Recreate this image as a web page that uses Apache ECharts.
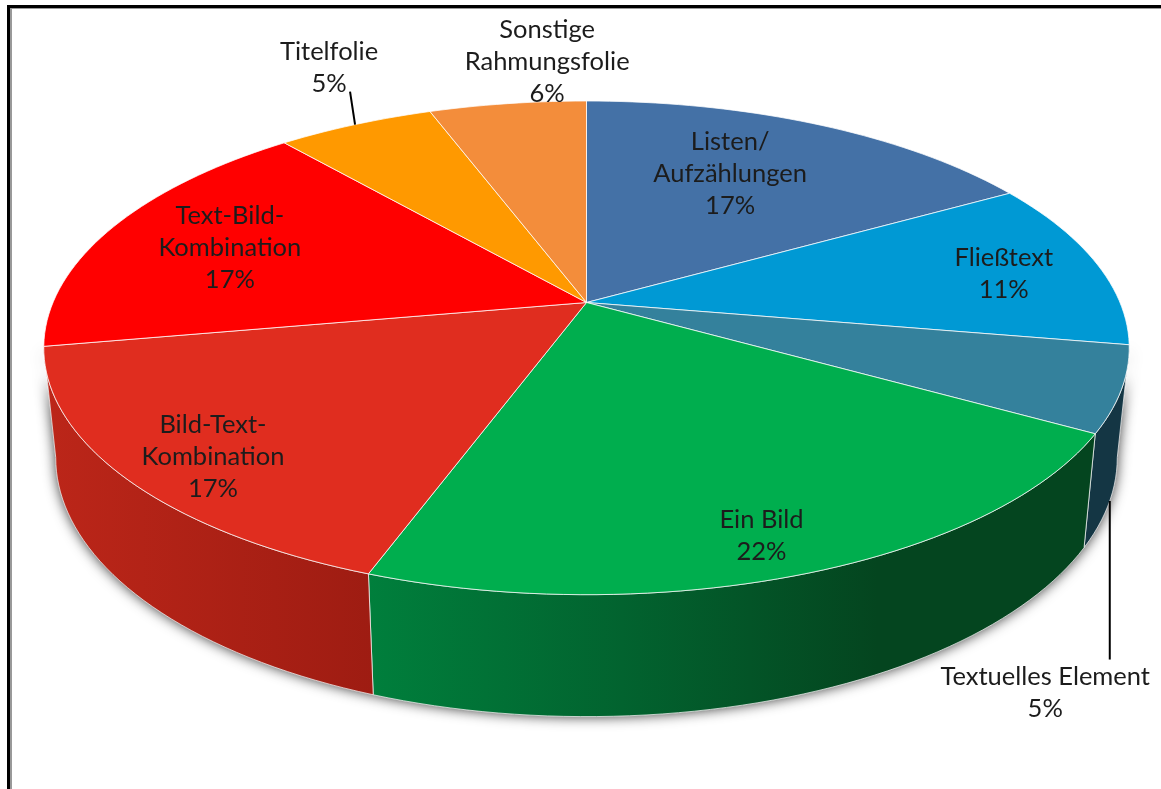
<!DOCTYPE html>
<html>
<head>
<meta charset="utf-8">
<style>
  html, body { margin: 0; padding: 0; background: #fff; }
  #chart { width: 1161px; height: 789px; }
</style>
<script src="https://cdn.jsdelivr.net/npm/echarts@6/dist/echarts.min.js"></script>
</head>
<body>
<div id="chart"></div>
<script>
// clockwise from 12 o'clock
const sliceNames = ['Listen/\nAufzählungen', 'Fließtext', 'Textuelles Element', 'Ein Bild',
    'Bild-Text-\nKombination', 'Text-Bild-\nKombination', 'Titelfolie', 'Sonstige\nRahmungsfolie'];
const sliceValues = [16.7, 11.1, 5.6, 22.2, 16.7, 16.7, 5.6, 5.6];
const slicePercents = ['17%', '11%', '5%', '22%', '17%', '17%', '5%', '6%'];

const topColors = ['#4471A6', '#0099D4', '#34819C', '#00AE4E', '#E02D1F', '#FF0000', '#FF9900', '#F38D3B'];
const wallColors = [
    null, null,
    [[0, '#143644'], [1, '#143644']],
    [[0, '#007F3C'], [0.35, '#02632F'], [0.7, '#04451F'], [1, '#04451F']],
    [[0, '#BC2619'], [1, '#9E1C12']],
    null, null, null
];

// perspective of the disc and the shift of its lower rim, in axis units
const tilt = 0.1837;
const rimScaleX = 0.978, rimScaleY = 1.05, rimShiftY = 0.45;
const rimStartDeg = Math.acos(-tilt) * 180 / Math.PI;
const rimEndDeg = 360 - rimStartDeg;

// label placement: radius on the disc and turn away from the slice's middle
const labelRadius = [0.675, 0.813, 1.419, 0.872, 0.849, 0.739, 1.34, 1.247];
const labelTurn = [-3.5, 0.9, 42.2, 1.4, -2.4, -0.3, 4.2, 6];

function disc(deg, r) {
    const a = deg * Math.PI / 180;
    const u = r * Math.sin(a), v = -r * Math.cos(a);
    const w = 1 - tilt * v;
    return [u / w, v / w];
}
function rim(deg) {
    const p = disc(deg, 1);
    return [p[0] * rimScaleX, p[1] * rimScaleY + rimShiftY];
}
function arc(from, to, fn) {
    const pts = [];
    const n = Math.max(2, Math.ceil(Math.abs(to - from) / 1.5));
    for (let i = 0; i <= n; i++) pts.push(fn(from + (to - from) * i / n));
    return pts;
}

const total = sliceValues.reduce((s, v) => s + v, 0);
let running = 0;
const sliceData = sliceValues.map((v, i) => {
    const start = running / total * 360;
    running += v;
    return [i, start, running / total * 360];
});

function wallPoints(api, from, to) {
    const topEdge = arc(from, to, d => disc(d, 1));
    const lowEdge = arc(to, from, rim);
    return topEdge.concat(lowEdge).map(p => api.coord(p));
}

const chart = echarts.init(document.getElementById('chart'), null, { renderer: 'canvas' });
chart.setOption({
    animation: false,
    backgroundColor: '#fff',
    grid: { left: 53, top: 64, width: 1067, height: 477 },
    xAxis: { type: 'value', min: -1, max: 1, show: false },
    yAxis: { type: 'value', min: -1, max: 1, inverse: true, show: false },
    graphic: [
        { type: 'rect', shape: { x: 7, y: 5, width: 1154, height: 3 }, style: { fill: '#000' }, z: 10 },
        { type: 'rect', shape: { x: 10, y: 8, width: 1151, height: 1 }, style: { fill: '#999' }, z: 10 },
        { type: 'rect', shape: { x: 7, y: 5, width: 3, height: 784 }, style: { fill: '#000' }, z: 10 },
        { type: 'rect', shape: { x: 10, y: 8, width: 2, height: 781 }, style: { fill: '#999' }, z: 10 }
    ],
    series: [
        {
            // soft shadow round the whole side wall
            type: 'custom', coordinateSystem: 'cartesian2d', clip: false, silent: true, z: 1,
            data: [[0]],
            renderItem: (params, api) => ({
                type: 'polygon',
                shape: { points: wallPoints(api, rimStartDeg, rimEndDeg) },
                style: { fill: '#555', shadowBlur: 13, shadowColor: 'rgba(0,0,0,0.8)' }
            })
        },
        {
            type: 'custom', coordinateSystem: 'cartesian2d', clip: false, silent: true, z: 2,
            data: sliceData,
            renderItem: (params, api) => {
                const i = api.value(0);
                const from = Math.max(api.value(1), rimStartDeg);
                const to = Math.min(api.value(2), rimEndDeg);
                if (!wallColors[i] || to <= from) return null;
                return {
                    type: 'polygon',
                    shape: { points: wallPoints(api, from, to) },
                    style: {
                        fill: new echarts.graphic.LinearGradient(0, 0, 1, 0,
                            wallColors[i].map(s => ({ offset: s[0], color: s[1] }))),
                        stroke: 'rgba(255,255,255,0.7)',
                        lineWidth: 1
                    }
                };
            }
        },
        {
            type: 'custom', coordinateSystem: 'cartesian2d', clip: false, silent: true, z: 3,
            data: sliceData,
            renderItem: (params, api) => {
                const i = api.value(0);
                const edge = arc(api.value(1), api.value(2), d => disc(d, 1));
                const pts = [[0, 0]].concat(edge).map(p => api.coord(p));
                return {
                    type: 'polygon',
                    shape: { points: pts },
                    style: { fill: topColors[i], stroke: 'rgba(255,255,255,0.75)', lineWidth: 1 }
                };
            }
        },
        {
            // leader lines for the two labels outside the disc
            type: 'custom', coordinateSystem: 'cartesian2d', clip: false, silent: true, z: 4,
            data: [[6], [2]],
            renderItem: (params, api) => {
                const i = api.value(0);
                const mid = (sliceData[i][1] + sliceData[i][2]) / 2;
                const a = i === 2 ? rim(mid) : disc(mid, 1);
                const b = i === 2 ? [a[0], a[1] + 0.665] : [a[0] - 0.0094, a[1] - 0.138];
                const p = api.coord(a), q = api.coord(b);
                return {
                    type: 'line',
                    shape: { x1: p[0], y1: p[1], x2: q[0], y2: q[1] },
                    style: { stroke: '#000', lineWidth: 2 }
                };
            }
        },
        {
            type: 'custom', coordinateSystem: 'cartesian2d', clip: false, silent: true, z: 5,
            data: sliceData,
            renderItem: (params, api) => {
                const i = api.value(0);
                const mid = (api.value(1) + api.value(2)) / 2 + labelTurn[i];
                const p = api.coord(disc(mid, labelRadius[i]));
                return {
                    type: 'text',
                    x: p[0] - 1, y: p[1] + 1,
                    style: {
                        text: sliceNames[i] + '\n' + slicePercents[i],
                        fill: '#1c1c1c',
                        font: '25.5px Lato',
                        align: 'center',
                        verticalAlign: 'middle',
                        lineHeight: 32
                    }
                };
            }
        }
    ]
});
</script>
</body>
</html>
